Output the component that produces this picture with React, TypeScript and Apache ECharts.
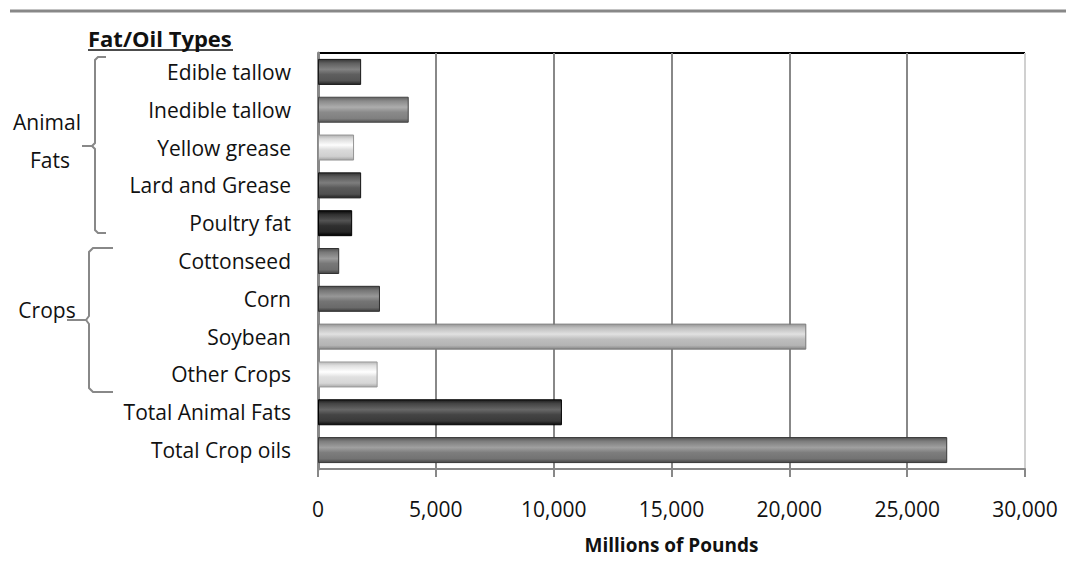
import React, { useEffect, useRef } from "react";
import * as echarts from "echarts";

const categories = [
  "Edible tallow",
  "Inedible tallow",
  "Yellow grease",
  "Lard and Grease",
  "Poultry fat",
  "Cottonseed",
  "Corn",
  "Soybean",
  "Other Crops",
  "Total Animal Fats",
  "Total Crop oils",
];
const values = [1830, 3850, 1530, 1830, 1450, 900, 2630, 20720, 2530, 10350, 26700];
const barColors = ["#555555", "#808080", "#d0d0d0", "#505050", "#262626", "#6e6e6e", "#6a6a6a", "#b4b4b4", "#d6d6d6", "#3a3a3a", "#737373"];
const xTicks = [0, 5000, 10000, 15000, 20000, 25000, 30000];

function shade(hex: string, amt: number): string {
  const n = parseInt(hex.slice(1), 16);
  const f = (c: number) => Math.max(0, Math.min(255, Math.round(c + amt)));
  const r = f((n >> 16) & 255), g = f((n >> 8) & 255), b = f(n & 255);
  return "#" + ((1 << 24) + (r << 16) + (g << 8) + b).toString(16).slice(1);
}

export default function App() {
  const ref = useRef<HTMLDivElement>(null);
  useEffect(() => {
    const chart = echarts.init(ref.current!, null, { renderer: "svg" });
    const font = "'Open Sans', Lato, sans-serif";
    const gray = "#888888";
    chart.setOption({
      animation: false,
      grid: { left: 318, right: 41, top: 53, bottom: 94 },
      xAxis: {
        type: "value",
        min: xTicks[0],
        max: xTicks[xTicks.length - 1],
        interval: 5000,
        name: "Millions of Pounds",
        nameLocation: "middle",
        nameGap: 66,
        nameTextStyle: { fontFamily: font, fontSize: 19, fontWeight: "bold", color: "#111" },
        axisLine: { show: true, lineStyle: { color: gray, width: 2 } },
        axisTick: { show: true, length: 8, lineStyle: { color: gray, width: 2 } },
        axisLabel: {
          margin: 29,
          fontFamily: font,
          fontSize: 21,
          color: "#111",
          formatter: (v: number) => v.toLocaleString("en-US"),
        },
        splitLine: {
          show: true,
          lineStyle: { color: ["#888", "#888", "#888", "#888", "#888", "#888", "#d0d0d0"], width: 2 },
        },
      },
      yAxis: {
        type: "category",
        data: categories,
        inverse: true,
        axisLine: { show: true, lineStyle: { color: gray, width: 3 } },
        axisTick: { show: false },
        axisLabel: { margin: 27, fontFamily: font, fontSize: 21, color: "#111" },
      },
      series: [
        {
          type: "bar",
          barWidth: 26,
          data: values.map((v, i) => {
            const c = barColors[i];
            return {
              value: v,
              itemStyle: {
                color: new echarts.graphic.LinearGradient(0, 0, 0, 1, [
                  { offset: 0, color: shade(c, -30) },
                  { offset: 0.15, color: shade(c, 10) },
                  { offset: 0.4, color: shade(c, 45) },
                  { offset: 0.6, color: shade(c, 10) },
                  { offset: 0.85, color: c },
                  { offset: 1, color: shade(c, -45) },
                ]),
                borderColor: shade(c, -60),
                borderWidth: 1,
              },
            };
          }),
        },
      ],
      graphic: [
        { type: "line", shape: { x1: 10, y1: 11, x2: 1066, y2: 11 }, style: { stroke: gray, lineWidth: 3 } },
        { type: "line", shape: { x1: 318, y1: 53, x2: 1025, y2: 53 }, style: { stroke: "#000", lineWidth: 2 } },
        {
          type: "text",
          x: 88,
          y: 38,
          style: { text: "Fat/Oil Types", font: `bold 22px ${font}`, fill: "#111", textVerticalAlign: "middle" },
        },
        { type: "line", shape: { x1: 88, y1: 50, x2: 233, y2: 50 }, style: { stroke: "#111", lineWidth: 1.5 } },
        {
          type: "polyline",
          shape: {
            points: [[106, 57], [98, 57], [95, 60], [95, 143], [92, 146], [82, 146], [92, 146], [95, 149], [95, 230], [98, 233], [106, 233]],
          },
          style: { stroke: gray, lineWidth: 2, fill: null },
        },
        {
          type: "polyline",
          shape: {
            points: [[113, 248], [93, 248], [89, 252], [89, 316], [86, 320], [67, 320], [86, 320], [89, 324], [89, 388], [93, 392], [113, 392]],
          },
          style: { stroke: gray, lineWidth: 2, fill: null },
        },
        { type: "text", x: 47, y: 122, style: { text: "Animal", font: `21px ${font}`, fill: "#111", textAlign: "center", textVerticalAlign: "middle" } },
        { type: "text", x: 50, y: 160, style: { text: "Fats", font: `21px ${font}`, fill: "#111", textAlign: "center", textVerticalAlign: "middle" } },
        { type: "text", x: 47, y: 310, style: { text: "Crops", font: `21px ${font}`, fill: "#111", textAlign: "center", textVerticalAlign: "middle" } },
      ],
    });
    return () => chart.dispose();
  }, []);
  return <div ref={ref} style={{ position: "absolute", left: 0, top: 0, width: 1066, height: 563 }} />;
}
